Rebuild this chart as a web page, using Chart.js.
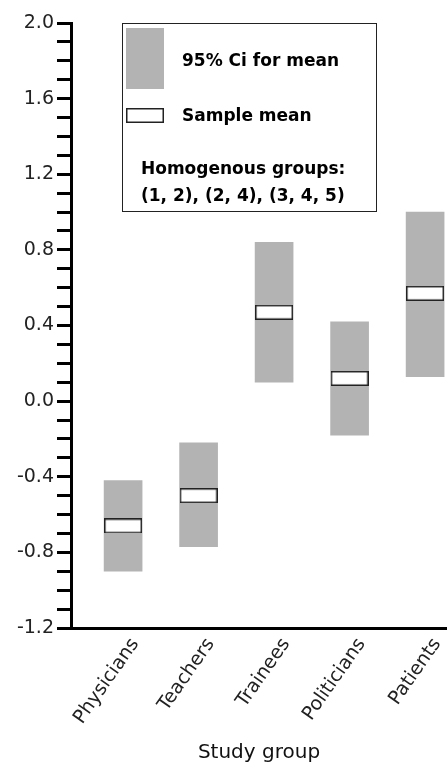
<!DOCTYPE html>
<html>
<head>
<meta charset="utf-8">
<script src="https://cdn.jsdelivr.net/npm/chart.js@4"></script>
<style>
  html, body { margin: 0; padding: 0; background: #fff; overflow: hidden; }
  /* a little wider than the window: the plot runs off the right edge like the original */
  #wrap { width: 458px; height: 766px; position: relative; }
  #ciChart { display: block; }
</style>
</head>
<body>
<div id="wrap"><canvas id="ciChart"></canvas></div>
<script>
// study groups and their 95% CI / sample mean
const groups = ['Physicians', 'Teachers', 'Trainees', 'Politicians', 'Patients'];
const ciLow = [-0.90, -0.77, 0.10, -0.18, 0.13];
const ciHigh = [-0.42, -0.22, 0.84, 0.42, 1.00];
const means = [-0.66, -0.50, 0.47, 0.12, 0.57];
const legendLines = ['95% Ci for mean', 'Sample mean', 'Homogenous groups:', '(1, 2), (2, 4), (3, 4, 5)'];

const tickFont = { family: 'DejaVu Sans', size: 19 };
const boldFont = 'bold 17px "DejaVu Sans"';

// little white box used as the marker for the sample mean
function meanMarker() {
    const c = document.createElement('canvas');
    c.width = 38;
    c.height = 15;
    const g = c.getContext('2d');
    g.fillStyle = '#fff';
    g.fillRect(0, 0, 38, 15);
    g.strokeStyle = '#222';
    g.lineWidth = 1.5;
    g.strokeRect(0.75, 0.75, 36.5, 13.5);
    return c;
}

// draws the boxed key in the upper left of the plot
const keyBox = {
    id: 'keyBox',
    afterDraw(chart) {
        const ctx = chart.ctx;
        ctx.save();
        ctx.fillStyle = '#fff';
        ctx.fillRect(122, 23, 255, 189);
        ctx.strokeStyle = '#222';
        ctx.lineWidth = 1;
        ctx.strokeRect(122.5, 23.5, 254, 188);
        ctx.fillStyle = '#b3b3b3';
        ctx.fillRect(126, 28, 38, 61);
        ctx.drawImage(meanMarker(), 126, 108);
        ctx.fillStyle = '#000';
        ctx.font = boldFont;
        ctx.textBaseline = 'middle';
        ctx.fillText(legendLines[0], 182, 62);
        ctx.fillText(legendLines[1], 182, 117);
        ctx.fillText(legendLines[2], 141, 170);
        ctx.fillText(legendLines[3], 141, 197);
        ctx.restore();
    }
};

const ctx = document.getElementById('ciChart').getContext('2d');
new Chart(ctx, {
    type: 'bar',
    data: {
        datasets: [{
            label: '95% Ci for mean',
            data: groups.map((g, i) => ({ x: i + 1, y: [ciLow[i], ciHigh[i]] })),
            backgroundColor: '#b3b3b3',
            borderWidth: 0,
            barThickness: 38,
            order: 2
        }, {
            type: 'line',
            label: 'Sample mean',
            data: groups.map((g, i) => ({ x: i + 1, y: means[i] })),
            showLine: false,
            pointStyle: meanMarker(),
            pointRadius: 10,
            order: 1
        }]
    },
    options: {
        responsive: true,
        maintainAspectRatio: false,
        animation: false,
        layout: { padding: { top: 23, right: 0, left: 0, bottom: 0 } },
        plugins: {
            legend: { display: false },
            tooltip: { enabled: false }
        },
        scales: {
            x: {
                type: 'linear',
                offset: false,
                min: 0.31,
                max: 5.29,
                afterBuildTicks: s => { s.ticks = groups.map((g, i) => ({ value: i + 1 })); },
                afterFit: s => { s.height = 138; },
                grid: { display: false, drawTicks: false },
                border: { display: true, color: '#000', width: 3 },
                ticks: {
                    font: tickFont,
                    color: '#222',
                    minRotation: 55,
                    maxRotation: 55,
                    padding: 6,
                    labelOffset: 12,
                    callback: v => groups[Math.round(v) - 1] || ''
                },
                title: {
                    display: true,
                    text: 'Study group',
                    font: { family: 'DejaVu Sans', size: 20 },
                    color: '#111',
                    padding: { top: 0, bottom: 1 }
                }
            },
            y: {
                min: -1.2,
                max: 2.0,
                afterBuildTicks: s => {
                    const t = [];
                    for (let k = -12; k <= 20; k++) t.push({ value: k / 10 });
                    s.ticks = t;
                },
                afterFit: s => { s.width = 71; },
                grid: {
                    display: true,
                    drawOnChartArea: false,
                    drawTicks: true,
                    tickLength: 14,
                    tickWidth: 3,
                    tickColor: '#000'
                },
                border: { display: true, color: '#000', width: 3 },
                ticks: {
                    font: tickFont,
                    color: '#222',
                    padding: 3,
                    autoSkip: false,
                    callback: v => (Math.round(v * 10) % 4 === 0 ? v.toFixed(1) : '')
                }
            }
        }
    },
    plugins: [keyBox]
});
</script>
</body>
</html>
